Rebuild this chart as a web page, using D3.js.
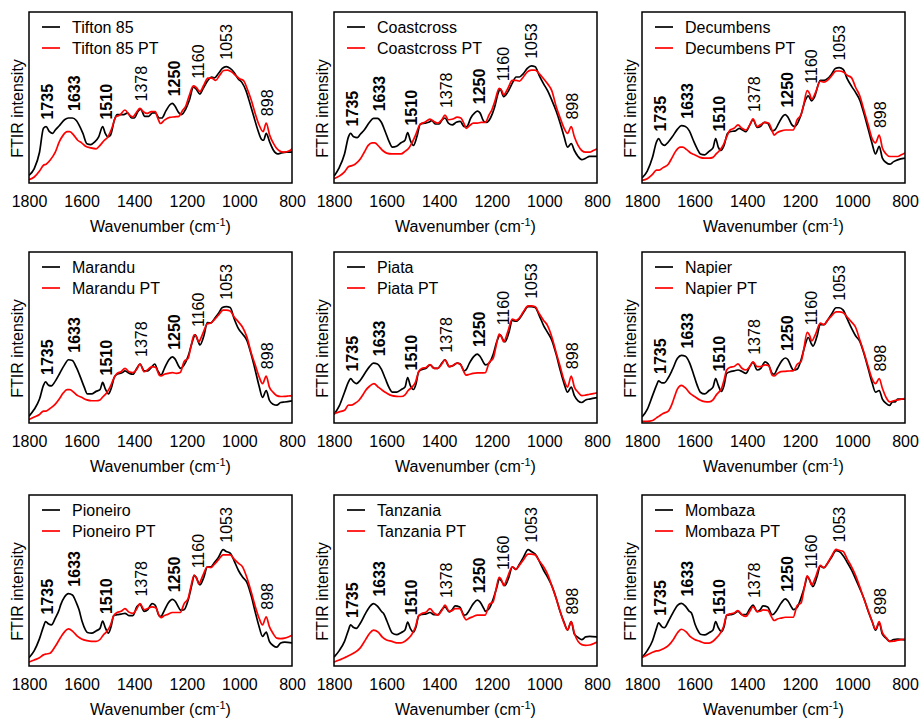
<!DOCTYPE html>
<html><head><meta charset="utf-8">
<script src="https://cdn.jsdelivr.net/npm/d3@7"></script>
<style>
html,body{margin:0;padding:0;background:#fff;}
svg{display:block;font-family:"Liberation Sans",Arial,sans-serif;}
</style></head>
<body>
<svg id="chart" width="920" height="720"></svg>
<script>
// ---------------- DATA ----------------
const xTicks = [1800, 1600, 1400, 1200, 1000, 800];
const peakLabels = [1735, 1633, 1510, 1378, 1250, 1160, 1053, 898];
const boldPeaks = [1735, 1633, 1510, 1250];
const sampleNames = ["Tifton 85","Coastcross","Decumbens","Marandu","Piata","Napier","Pioneiro","Tanzania","Mombaza"];

const tifton85 = [[1800,4.5],[1780,8.4],[1760,18],[1745,32],[1735,33],[1722,30],[1710,29],[1700,31],[1685,33.5],[1665,37],[1650,38],[1635,38],[1620,36.5],[1610,34],[1595,29],[1580,23],[1565,22.5],[1550,24],[1535,27],[1520,33],[1510,29],[1500,27],[1490,28],[1475,37],[1465,40],[1440,40],[1425,41],[1410,38],[1400,38],[1385,42],[1375,43],[1360,39],[1345,39],[1330,41],[1320,41],[1305,38],[1295,38],[1280,42],[1265,45.6],[1255,46.6],[1245,45],[1230,41],[1220,40],[1205,43],[1190,48.5],[1175,56],[1165,55],[1150,52],[1140,54.6],[1120,60],[1105,62],[1095,61.5],[1080,64],[1065,67],[1050,68],[1035,67],[1020,64.6],[1005,61],[990,58.7],[975,54],[960,46.6],[945,38.7],[930,31],[915,25.4],[908,25],[898,29],[885,24],[870,19],[855,17],[840,17.6],[820,18],[800,18]];
const tifton85PT = [[1800,2],[1780,3.5],[1760,7],[1745,10.4],[1735,11],[1720,13.3],[1700,18],[1685,24],[1670,28],[1655,30],[1645,30],[1630,28],[1615,25],[1600,23.5],[1585,21.5],[1565,20.5],[1545,20],[1530,22],[1515,24.7],[1500,27],[1485,32],[1470,38.7],[1455,39.7],[1435,42.7],[1420,40],[1405,38.7],[1390,41.7],[1378,43.6],[1365,41.7],[1350,40.7],[1335,41.7],[1320,41.7],[1310,37.8],[1300,34.8],[1285,36.8],[1265,38.4],[1245,38.7],[1230,39],[1215,42.7],[1205,44.6],[1190,51.5],[1175,56.8],[1165,56],[1150,53.4],[1135,57.3],[1120,61.3],[1105,61.3],[1090,60],[1075,63],[1060,65.8],[1045,66],[1030,65],[1015,63],[1000,61],[985,60],[970,55],[955,48.5],[940,40.7],[925,33.9],[910,30],[898,35],[885,28],[870,23],[850,19],[830,18],[810,18.8],[800,20]];

const coastcross = [[1800,4],[1780,9],[1760,17],[1745,27],[1737,29],[1725,27],[1712,26.5],[1700,28.5],[1685,31],[1665,35.5],[1650,37.8],[1635,37.8],[1620,35.5],[1605,30],[1590,24],[1578,21],[1562,21.5],[1545,23.5],[1530,25],[1520,29.5],[1510,25],[1498,22],[1485,27],[1472,34.4],[1455,35],[1440,35.5],[1428,36.5],[1415,34.5],[1400,34.5],[1388,37],[1378,38],[1365,35],[1350,34],[1335,35.5],[1320,36],[1305,33],[1295,33],[1280,38],[1265,41],[1255,42],[1245,41],[1230,36],[1220,35.5],[1205,38],[1190,44],[1175,53],[1168,55],[1155,50.5],[1140,53],[1120,59],[1108,62],[1095,62],[1080,64],[1065,67],[1050,68.5],[1035,68],[1020,63],[1003,58],[988,54],[972,48.5],[955,42],[940,35],[925,27],[912,21],[898,23],[886,19],[872,15.5],[858,13.7],[843,14.5],[828,15.6],[800,15.6]];
const coastcrossPT = [[1800,2.5],[1780,4],[1760,6.5],[1745,9.5],[1735,10],[1720,11],[1700,14],[1685,18],[1670,22],[1655,23.5],[1645,23.5],[1630,21.5],[1615,19],[1600,17.5],[1580,17],[1562,17],[1545,17],[1530,18.5],[1515,20.5],[1505,23],[1490,28],[1472,34.4],[1455,35.5],[1435,37.4],[1420,36],[1405,35],[1390,37],[1378,39.7],[1365,37],[1348,37.4],[1332,38.5],[1318,38],[1305,34.5],[1298,32],[1285,33.5],[1270,35],[1255,35],[1240,35.5],[1225,35.4],[1210,40],[1200,42.7],[1188,48],[1172,55.4],[1162,54],[1155,51.5],[1140,55],[1122,60],[1108,60],[1095,59.5],[1080,62],[1065,65],[1050,66],[1035,66],[1020,64],[1003,61],[988,58],[972,54],[955,44.6],[940,38],[925,32],[912,29],[898,33],[886,27],[872,22],[858,19],[843,18],[828,18],[814,19],[800,20]];

const decumbens = [[1800,3],[1780,7],[1760,15],[1745,24],[1737,26],[1725,23],[1715,22],[1700,24],[1685,27],[1665,31.5],[1650,33.5],[1635,33],[1620,30.5],[1605,25],[1590,20],[1578,17],[1562,16.5],[1545,18.5],[1530,20.5],[1520,26],[1510,21],[1500,19],[1488,22],[1475,29],[1465,30],[1445,30.5],[1430,32],[1418,31],[1405,30],[1390,34],[1378,37],[1362,32.5],[1350,33],[1335,35.5],[1322,35],[1305,30.5],[1295,31],[1280,35],[1265,39],[1255,40],[1245,38.5],[1230,34],[1220,33],[1210,34.5],[1195,40],[1180,48],[1168,51],[1155,48],[1145,50],[1122,60],[1108,60],[1095,61],[1080,63.5],[1065,67],[1050,67.5],[1035,66.5],[1020,61],[1003,56.5],[988,53],[972,48.5],[955,40],[940,31.5],[925,23],[912,17],[898,21.5],[886,14.5],[872,12],[858,11],[843,12.5],[828,13.5],[800,14.5]];
const decumbensPT = [[1800,1.5],[1780,2.5],[1760,5],[1745,7.5],[1735,7.5],[1720,9],[1700,11],[1685,15],[1670,19],[1655,21],[1645,21],[1630,19.5],[1615,17.5],[1600,16.5],[1580,15],[1562,14.5],[1545,14.5],[1530,15],[1518,17],[1505,19],[1490,22.5],[1478,27],[1465,31],[1450,32],[1435,34],[1420,32],[1405,31],[1390,34],[1378,37.5],[1362,33],[1350,34],[1332,35.5],[1318,35],[1305,30.5],[1298,28],[1285,29.5],[1270,30.5],[1255,31],[1240,31],[1225,31],[1210,37],[1195,40],[1185,46],[1172,54],[1162,52],[1155,49],[1140,53],[1122,59.5],[1108,59],[1095,60],[1080,62.5],[1062,65.5],[1050,65.5],[1035,65],[1020,63],[1003,61.5],[988,56],[972,51],[955,42],[940,34],[925,26],[912,23.5],[898,28],[886,20.5],[872,17],[858,15.5],[843,15.5],[828,15.5],[814,16.5],[800,17.5]];

const marandu = [[1800,4],[1780,8],[1760,14],[1745,22],[1737,24],[1725,22],[1715,21.7],[1700,24.5],[1685,28.5],[1665,34],[1650,37],[1635,36.5],[1620,32.5],[1605,27],[1590,21],[1578,17],[1562,17],[1545,18.5],[1530,19.5],[1520,23.7],[1510,20],[1498,17],[1488,20],[1475,27],[1465,28.5],[1445,29.5],[1435,30.5],[1418,29],[1405,28.5],[1390,32],[1378,34.5],[1362,30.5],[1348,30.5],[1332,33],[1322,34.5],[1310,30.5],[1298,28],[1285,32],[1268,37],[1255,38.7],[1245,37.5],[1230,33],[1225,32],[1210,34],[1195,39],[1180,47],[1168,51.5],[1155,47],[1150,45.6],[1135,51],[1122,58.7],[1108,58.5],[1095,61],[1080,64],[1065,67.5],[1050,68],[1035,67.5],[1020,61],[1003,55],[988,52],[972,48.5],[955,40],[940,31],[925,21.5],[912,15],[898,19],[886,13.3],[872,11],[858,10.4],[843,12],[828,12.3],[800,13]];
const maranduPT = [[1800,2],[1780,3.5],[1760,5],[1745,7],[1735,7],[1720,8.5],[1700,11],[1685,14],[1670,17.5],[1655,19.5],[1645,19.5],[1630,18],[1615,16],[1600,15],[1580,13.5],[1562,13],[1545,13],[1530,13.5],[1518,15.5],[1505,17.6],[1490,21.5],[1478,26],[1465,29],[1450,30],[1435,32],[1420,30],[1405,29.5],[1390,31.5],[1378,34.5],[1362,30],[1350,31],[1332,33],[1318,32.5],[1305,28],[1298,27.5],[1285,28.5],[1272,29],[1255,29.5],[1240,29],[1225,29.5],[1210,36],[1195,37.8],[1185,44],[1172,51.5],[1162,50],[1155,47.5],[1140,52],[1122,58],[1108,58.5],[1095,60.5],[1080,63],[1062,66],[1050,66],[1035,65.5],[1020,62],[1003,59],[988,56],[972,50.5],[955,41],[940,34],[925,27],[912,23],[898,27.4],[886,21],[872,18],[858,16],[843,15.5],[828,15.6],[814,15.8],[800,16]];

const piata = [[1800,5],[1780,10],[1760,18],[1745,24],[1737,26],[1725,24],[1715,23],[1700,25],[1685,28.5],[1665,33],[1650,35],[1635,34.5],[1620,31.5],[1605,26],[1590,20.5],[1578,18],[1562,18],[1545,19.5],[1530,21],[1520,26.6],[1510,22],[1498,19.6],[1488,23],[1478,30],[1465,31.3],[1450,32],[1435,34],[1418,32],[1405,32],[1390,35],[1378,37],[1362,33],[1348,33.5],[1332,35],[1320,34.5],[1305,30.5],[1298,31],[1285,35],[1268,39],[1255,40.3],[1245,39],[1230,35],[1225,34],[1210,35],[1195,40],[1180,48],[1168,51.5],[1155,48],[1150,47.5],[1135,53],[1122,60],[1108,59.5],[1095,61],[1080,64.5],[1062,68],[1050,68],[1035,67.5],[1020,63],[1003,57],[988,53],[972,48.5],[955,40],[940,31],[925,23],[912,18],[898,21],[886,16],[872,13],[858,12],[843,13.5],[828,14],[800,14.8]];
const piataPT = [[1800,5.5],[1780,6.5],[1760,7.4],[1745,10.4],[1735,10.4],[1720,11.5],[1705,13.3],[1690,16.5],[1680,19],[1665,21.5],[1648,23],[1632,21],[1615,19],[1600,17.5],[1580,16],[1562,15.6],[1545,15.5],[1530,16.5],[1518,19],[1505,20.7],[1490,24],[1478,30],[1465,32],[1450,32.5],[1435,34.2],[1420,32],[1405,32],[1390,34.5],[1378,37],[1362,33],[1350,33.5],[1332,35],[1318,34],[1305,29.5],[1298,28],[1285,28.5],[1272,29],[1255,29.3],[1240,29.3],[1225,29.4],[1210,35.4],[1195,37.8],[1185,44],[1172,52],[1162,50],[1155,47.5],[1140,53],[1122,60.7],[1108,60],[1095,61.5],[1080,65],[1062,68.5],[1050,68.5],[1035,68],[1020,64],[1003,60],[988,57],[972,50.5],[955,41],[940,33],[925,25],[912,21],[898,27.4],[886,21],[872,18],[858,16],[843,16.3],[828,16.8],[814,17.2],[800,17.6]];

const napier = [[1800,3.5],[1780,8],[1760,16],[1745,22],[1737,24.6],[1725,23.5],[1715,23.5],[1700,26.5],[1685,31],[1665,37.8],[1650,39.5],[1635,39],[1620,35.5],[1605,29],[1590,22],[1578,18],[1562,17],[1545,19],[1530,21],[1520,26],[1510,22],[1498,18.5],[1488,22],[1478,29],[1465,30],[1450,30.5],[1435,31],[1418,30],[1405,29],[1390,33],[1378,35.4],[1362,31],[1348,32],[1332,35.8],[1320,34.5],[1305,29],[1298,28.5],[1285,32],[1268,36.5],[1255,38],[1245,37],[1230,32],[1225,31],[1210,31.5],[1195,37],[1180,45.5],[1168,50],[1155,46],[1150,45],[1135,50.5],[1122,57.5],[1108,57.5],[1095,60],[1080,63.5],[1062,67.4],[1050,67.4],[1035,66],[1020,61],[1003,55.3],[988,51],[972,47.7],[955,40],[940,31.8],[925,23.5],[912,18],[898,19],[886,14],[872,11.5],[858,10.3],[848,12.3],[838,12.3],[828,14],[800,14]];
const napierPT = [[1800,1],[1780,1],[1760,1.5],[1745,3],[1735,4],[1720,5.6],[1700,7],[1685,11.5],[1675,16],[1665,20],[1650,22],[1635,20.5],[1615,17],[1600,15.5],[1580,13.5],[1562,12.5],[1545,12.3],[1530,13.5],[1518,16.3],[1505,18.5],[1498,20],[1488,25],[1478,31],[1465,32.6],[1450,33],[1435,34.6],[1420,32],[1405,31],[1390,33],[1378,35.8],[1362,33],[1350,33],[1332,34],[1318,33.5],[1305,28],[1298,27.5],[1285,29],[1272,30],[1255,30.2],[1240,30.4],[1225,30.5],[1210,34.4],[1195,36],[1185,43],[1172,53],[1162,51],[1155,48],[1140,52],[1122,58.4],[1108,57.5],[1095,60],[1080,62.5],[1062,65],[1050,65],[1035,64.5],[1020,62],[1003,59],[988,56],[972,48.7],[955,40.8],[940,33],[925,25.8],[912,23],[898,26],[886,20.3],[872,15],[858,12.3],[843,13],[828,13.5],[814,14],[800,14.3]];

const pioneiro = [[1800,4.8],[1780,9],[1760,16],[1745,23],[1737,26],[1725,24.5],[1715,24],[1700,28],[1685,33],[1680,35.6],[1665,40.4],[1650,42.3],[1635,41.5],[1620,37],[1610,33],[1598,26],[1585,21],[1578,19.6],[1562,19.2],[1545,20.5],[1530,22],[1520,26.3],[1510,22.5],[1498,19.2],[1488,23],[1478,29.4],[1465,30],[1450,30.3],[1435,30.8],[1420,29.5],[1405,29.5],[1390,34.6],[1378,36],[1362,32],[1348,33],[1332,36.5],[1320,35.5],[1305,29.4],[1298,29],[1290,31],[1270,37],[1255,39],[1245,38],[1230,34],[1225,32.7],[1210,33],[1195,38.5],[1180,48],[1172,53],[1165,52],[1150,47.5],[1135,52],[1122,58],[1108,58],[1095,60.5],[1080,63.5],[1062,68],[1050,67],[1035,66],[1020,61.5],[1003,55.7],[988,52],[972,49],[955,41],[940,31.7],[925,23],[912,17.3],[898,19.8],[886,14.4],[872,12],[858,11],[843,13.5],[828,14],[800,13.5]];
const pioneiroPT = [[1800,2.3],[1780,3.5],[1760,4.8],[1745,6.5],[1735,7],[1720,7.5],[1700,11.5],[1680,16.7],[1665,20],[1650,21.7],[1632,20],[1615,17.3],[1600,15.8],[1580,14.8],[1562,14.4],[1545,14.4],[1530,15.5],[1518,18],[1505,20],[1490,24],[1478,29.4],[1465,31.3],[1450,32],[1435,33.6],[1420,31.5],[1405,30.8],[1390,33.5],[1378,36.5],[1362,33],[1350,33.5],[1332,34.6],[1318,34],[1305,29.5],[1298,28.3],[1285,29.5],[1272,30.2],[1255,31.3],[1240,31.3],[1225,31.3],[1210,36.5],[1195,39.4],[1185,46],[1172,53],[1162,51],[1155,48],[1140,52.5],[1122,58],[1108,57.5],[1095,59.5],[1080,62],[1062,65],[1050,65],[1035,65],[1020,62.5],[1003,60],[988,58],[972,51.9],[955,43.3],[940,35],[925,27.9],[912,24],[898,28.8],[886,23],[872,19],[858,16.3],[843,16],[828,16.3],[814,17],[800,17.9]];

const tanzania = [[1800,5.2],[1780,9],[1760,14.4],[1745,21],[1737,24],[1725,22.5],[1715,22],[1700,25],[1680,30.8],[1665,34.5],[1650,36.5],[1635,35],[1620,32],[1612,30.8],[1598,26],[1585,21],[1578,19.2],[1562,18.3],[1545,19.5],[1530,21],[1520,25.6],[1510,22],[1498,19.8],[1488,23],[1478,29.4],[1465,30.2],[1450,30.5],[1435,31.3],[1420,30],[1405,30],[1390,33],[1378,34.6],[1362,31.7],[1350,33],[1340,35.2],[1322,34.5],[1305,29.8],[1298,30],[1290,31.5],[1270,36.5],[1255,38.5],[1245,37.5],[1230,33.5],[1225,32],[1210,33.6],[1195,39],[1180,46.5],[1172,50.9],[1165,50],[1150,47],[1135,52],[1122,58],[1108,56.5],[1095,59.5],[1080,63.5],[1062,68],[1050,67],[1035,65.4],[1020,61.5],[1003,56],[988,52],[972,47],[955,39.5],[940,31.7],[925,25.5],[912,21],[898,26],[886,18.6],[872,16.7],[858,15.4],[843,17],[828,17.3],[800,17]];
const tanzaniaPT = [[1800,2.3],[1780,3.5],[1760,4.8],[1745,6],[1735,6.7],[1720,8],[1700,10.6],[1680,15.4],[1665,19],[1650,21],[1632,19.8],[1615,16.7],[1600,15.2],[1580,14.4],[1562,13.5],[1545,13.5],[1530,14.5],[1518,16],[1505,18.3],[1490,23],[1478,29.4],[1465,30.8],[1450,31.5],[1435,33.6],[1420,31],[1405,29.8],[1390,32.5],[1378,35.6],[1362,32],[1350,32.5],[1340,33.6],[1322,33.5],[1305,28.5],[1298,27],[1285,28],[1272,28.8],[1255,29.8],[1240,29.8],[1225,29.8],[1210,36],[1195,37.5],[1185,44],[1172,51.9],[1162,50],[1155,47],[1140,52],[1122,58],[1108,56.5],[1095,59],[1080,62],[1062,65.4],[1050,65.4],[1035,65],[1020,61.5],[1003,58],[988,53.7],[972,47],[955,39.4],[940,32],[925,25],[912,21],[898,26],[886,19.2],[872,14.4],[858,12.5],[843,12.1],[828,12.3],[814,13],[800,14]];

const mombaza = [[1800,5],[1780,9],[1760,14.8],[1745,22],[1737,25.3],[1725,23],[1715,22.4],[1700,26],[1680,31.8],[1665,35.5],[1650,36.6],[1635,35],[1620,32],[1612,31],[1598,24.3],[1585,20],[1578,18.6],[1562,18.2],[1545,19.5],[1530,21],[1520,25.9],[1510,22.5],[1498,20],[1488,23],[1478,29.7],[1465,30],[1450,30.5],[1435,32],[1420,30],[1405,30],[1390,33.5],[1378,35.6],[1362,31.8],[1350,33],[1340,35.2],[1322,34.5],[1305,30],[1298,30.5],[1290,32],[1270,37],[1255,39.3],[1245,38],[1230,34],[1225,33],[1210,34.3],[1195,40],[1180,47.5],[1172,52.3],[1165,51],[1150,46.5],[1135,52],[1122,58.4],[1108,57.5],[1095,60],[1080,63.5],[1062,67.4],[1050,66.9],[1035,64.5],[1020,60.7],[1003,56],[988,51],[972,45.4],[955,39],[940,32],[925,26],[912,20.9],[898,25.3],[886,18.6],[872,16.3],[858,14.4],[843,15.5],[828,15.7],[800,15.3]];
const mombazaPT = [[1800,5],[1780,6.5],[1760,8],[1745,8.8],[1735,9],[1720,10],[1700,11.9],[1680,15.7],[1665,19.5],[1650,21.5],[1632,20],[1615,17],[1600,15.5],[1580,14.4],[1562,13.4],[1545,13.4],[1530,14.5],[1518,16.3],[1505,18.6],[1490,23],[1478,29.7],[1465,30.5],[1450,31],[1435,32.4],[1420,30],[1405,29],[1390,32],[1378,34.7],[1362,31.8],[1350,32],[1340,32.8],[1322,32.5],[1305,28],[1298,26.6],[1285,27.5],[1272,28],[1255,28.5],[1240,28.5],[1225,28.5],[1210,35.4],[1195,36.8],[1185,44],[1172,52.7],[1162,50],[1155,47.3],[1140,52],[1122,58.8],[1108,57.5],[1095,60],[1080,64],[1062,68.2],[1050,67.6],[1035,67],[1020,62.6],[1003,58],[988,53],[972,46.4],[955,38.7],[940,32.5],[925,26.2],[912,21.5],[898,25.9],[886,19.5],[872,16.7],[858,14.4],[843,14.5],[828,15.1],[814,15.4],[800,15.7]];

const rawSeries = [tifton85, coastcross, decumbens, marandu, piata, napier, pioneiro, tanzania, mombaza];
const ptSeries = [tifton85PT, coastcrossPT, decumbensPT, maranduPT, piataPT, napierPT, pioneiroPT, tanzaniaPT, mombazaPT];

// ---------------- LAYOUT ----------------
const colLefts = [29, 334, 642];
const rowTops = [12, 252, 495];
const pw = 263, ph = 171;
const FONT = 16;

const svg = d3.select("#chart");

const x = d3.scaleLinear().domain([1800, 800]).range([0, pw]);
const y = d3.scaleLinear().domain([0, 100]).range([ph, 0]);
const line = d3.line().x(d => x(d[0])).y(d => y(d[1])).curve(d3.curveMonotoneX);

svg.append("defs").append("clipPath").attr("id", "clip")
  .append("rect").attr("width", pw).attr("height", ph);

sampleNames.forEach((name, i) => {
  const col = i % 3, row = Math.floor(i / 3);
  const g = svg.append("g").attr("transform", `translate(${colLefts[col]},${rowTops[row]})`);
  const black = rawSeries[i], red = ptSeries[i];

  const plot = g.append("g").attr("clip-path", "url(#clip)");
  plot.append("path").datum(black).attr("d", line)
    .attr("fill", "none").attr("stroke", "#000").attr("stroke-width", 1.7).attr("stroke-linejoin", "round");
  plot.append("path").datum(red).attr("d", line)
    .attr("fill", "none").attr("stroke", "#ff0000").attr("stroke-width", 1.7).attr("stroke-linejoin", "round");

  // frame
  g.append("rect").attr("width", pw).attr("height", ph)
    .attr("fill", "none").attr("stroke", "#000").attr("stroke-width", 1.5);

  // x axis
  const ax = g.append("g").attr("transform", `translate(0,${ph})`)
    .call(d3.axisBottom(x).tickValues(xTicks).tickSize(0).tickPadding(13).tickFormat(d3.format("d")));
  ax.select(".domain").remove();
  ax.selectAll("text").attr("font-size", FONT).attr("font-family", "Liberation Sans, Arial, sans-serif").attr("fill", "#000");

  // x title
  const xt = g.append("text").attr("x", pw / 2).attr("y", ph + 49)
    .attr("text-anchor", "middle").attr("font-size", FONT).attr("fill", "#000");
  xt.append("tspan").text("Wavenumber (cm");
  xt.append("tspan").attr("font-size", 11).attr("dy", -6).text("-1");
  xt.append("tspan").attr("dy", 6).text(")");

  // y title
  g.append("text").attr("transform", `translate(-12,${ph / 2 + 11}) rotate(-90)`)
    .attr("text-anchor", "middle").attr("dy", "0.35em").attr("font-size", FONT).attr("fill", "#000")
    .text("FTIR intensity");

  // legend
  const leg = [[name, "#000"], [name + " PT", "#ff0000"]];
  leg.forEach((l, k) => {
    const ly = 15 + k * 21;
    g.append("line").attr("x1", 13).attr("x2", 31).attr("y1", ly).attr("y2", ly)
      .attr("stroke", l[1]).attr("stroke-width", 1.7);
    g.append("text").attr("x", 43).attr("y", ly).attr("dy", "0.35em")
      .attr("font-size", FONT).attr("fill", "#000").text(l[0]);
  });

  // peak labels
  peakLabels.forEach(wn => {
    const pts = black.concat(red).filter(d => Math.abs(d[0] - wn) <= 20);
    const top = d3.max(pts, d => d[1]);
    const by = y(top) - 7;
    g.append("text")
      .attr("transform", `translate(${x(wn) + 1},${by}) rotate(-90)`)
      .attr("dy", "0.35em").attr("font-size", FONT)
      .attr("font-weight", boldPeaks.includes(wn) ? "bold" : "normal")
      .attr("fill", "#000").text(wn);
  });
});
</script>
</body></html>
